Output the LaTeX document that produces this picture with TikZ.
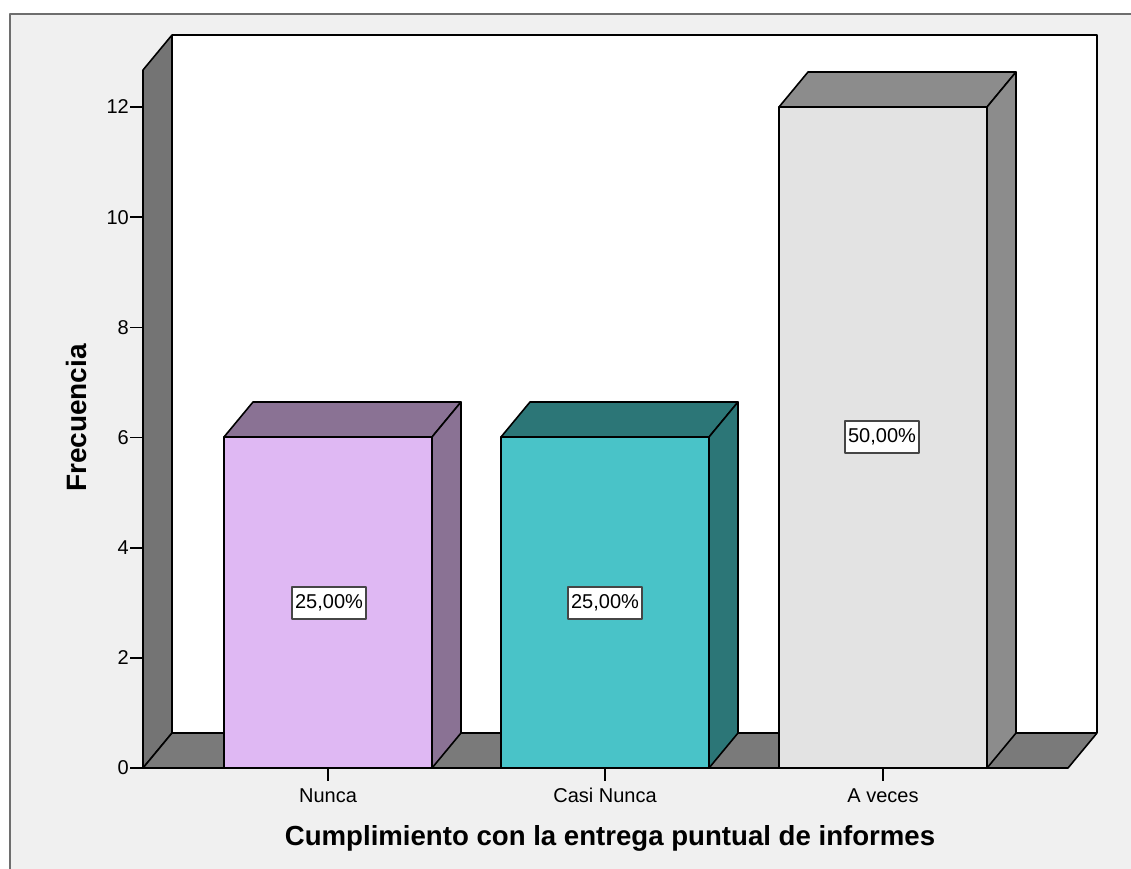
\documentclass[tikz,border=0pt]{standalone}
\usepackage{fontspec}
\setmainfont{Liberation Sans}
\definecolor{bgc}{RGB}{240,240,240}
\definecolor{framec}{RGB}{110,110,110}
\definecolor{boxc}{RGB}{70,70,70}
\definecolor{wallc}{RGB}{116,116,116}
\definecolor{floorc}{RGB}{122,122,122}
\definecolor{nfront}{RGB}{223,184,243}
\definecolor{nside}{RGB}{138,114,148}
\definecolor{cfront}{RGB}{73,195,200}
\definecolor{cside}{RGB}{44,118,119}
\definecolor{afront}{RGB}{227,227,227}
\definecolor{aside}{RGB}{140,140,140}
\begin{document}
\begin{tikzpicture}[x=1pt,y=-1pt,line join=round,
  edge/.style={draw=black,line width=1.6pt},
  ticklbl/.style={font=\fontsize{20}{22}\selectfont,inner sep=0pt},
  pctbox/.style={draw=boxc,line width=1.8pt,fill=white,font=\fontsize{20}{22}\selectfont,inner xsep=3pt,inner ysep=0pt,minimum height=32pt},
  axtitle/.style={font=\fontsize{27.6}{30}\selectfont\bfseries,inner sep=0pt}]
\useasboundingbox (0,0) rectangle (1131,868);
\fill[white] (0,0) rectangle (1131,868);
% outer frame
\fill[bgc] (10,14) rectangle (1140,880);
\draw[framec,line width=2pt] (10,880) -- (10,14) -- (1140,14);
% back wall
\fill[white] (172,35) rectangle (1097,733);
\draw[edge] (172,35) -- (1097,35) -- (1097,733);
% left wall
\filldraw[fill=wallc,edge] (143,70) -- (172,35) -- (172,733) -- (143,768) -- cycle;
% floor
\filldraw[fill=floorc,edge] (143,768) -- (172,733) -- (1097,733) -- (1068,768) -- cycle;
% bars
\foreach \xa/\xb/\top/\fc/\sc in {224/432/437/nfront/nside, 501/709/437/cfront/cside, 779/987/107/afront/aside}{
  \filldraw[fill=\sc,edge] (\xa,\top) -- (\xa+29,\top-35) -- (\xb+29,\top-35) -- (\xb,\top) -- cycle;
  \filldraw[fill=\sc,edge] (\xb,\top) -- (\xb+29,\top-35) -- (\xb+29,733) -- (\xb,768) -- cycle;
  \filldraw[fill=\fc,edge] (\xa,768) rectangle (\xb,\top);
}
% axes
\draw[edge] (143,70) -- (143,768) -- (1068,768);
% y ticks
\foreach \v/\yy in {0/768,2/657.8,4/547.7,6/437.5,8/327.3,10/217.2,12/107}{
  \draw[black,line width=1.6pt] (130,\yy) -- (143,\yy);
  \node[ticklbl,anchor=east] (yt\v) at (129,\yy) {\v};
}
% x ticks
\foreach \xx/\nm/\lab in {328/n/Nunca,605/c/Casi Nunca,883/a/A veces}{
  \draw[black,line width=1.6pt] (\xx,768) -- (\xx,781);
  \node[ticklbl,anchor=base] (xt\nm) at (\xx,802) {\lab};
}
% percentage labels
\node[pctbox] (pn) at (329,603) {25,00\%};
\node[pctbox] (pc) at (605,603) {25,00\%};
\node[pctbox] (pa) at (882,437) {50,00\%};
% axis titles
\node[axtitle] (xtitle) at (610,838) {Cumplimiento con la entrega puntual de informes};
\node[axtitle,rotate=90,font=\fontsize{28}{30}\selectfont\bfseries] (ytitle) at (76,418) {Frecuencia};
\end{tikzpicture}
\end{document}
